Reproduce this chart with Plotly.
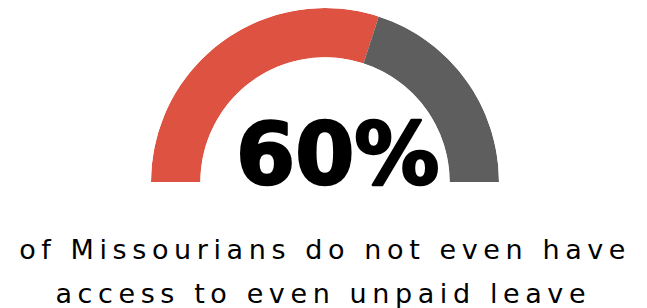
import numpy as np
import plotly.graph_objects as go

categories = ["Without access to unpaid leave", "With access"]
values = [60, 40]
colors = ["#DD5241", "#5E5E5E"]
headline = "60%"
caption_lines = ["of Missourians do not even have", "access to even unpaid leave"]

vals = np.array(values, dtype=float)
spans = vals / vals.sum() * 180.0
starts = np.concatenate([[0.0], np.cumsum(spans)[:-1]])
centers = starts + spans / 2

W, H = 647, 308
cx, cy, R = 317.0, 174.0, 174.0
fig = go.Figure()
fig.add_trace(go.Barpolar(
    r=[1] * len(values), theta=centers, width=spans,
    marker=dict(color=colors, line=dict(width=0)),
    text=categories, hoverinfo="text", showlegend=False,
))
fig.update_layout(
    width=W, height=H,
    margin=dict(l=0, r=0, t=0, b=0),
    paper_bgcolor="white", plot_bgcolor="white",
    polar=dict(
        domain=dict(x=[(cx - R) / W, (cx + R) / W], y=[(H - cy) / H, min(1.0, (H - cy + R) / H)]),
        sector=[0, 180], hole=125 / 174.5,
        bgcolor="rgba(0,0,0,0)",
        radialaxis=dict(visible=False, range=[0, 1]),
        angularaxis=dict(visible=False, rotation=180, direction="clockwise"),
    ),
    annotations=[
        dict(text="<b>" + headline + "</b>", x=330 / W, y=(H - 198) / H, xref="paper", yref="paper",
             xanchor="center", yanchor="bottom", showarrow=False,
             font=dict(family="DejaVu Sans", size=85, color="black")),
        dict(text=caption_lines[0], x=317 / W, y=(H - 241) / H, xref="paper", yref="paper",
             xanchor="center", yanchor="middle", showarrow=False,
             font=dict(family="DejaVu Sans", size=27, color="black")),
        dict(text=caption_lines[1], x=315 / W, y=(H - 285) / H, xref="paper", yref="paper",
             xanchor="center", yanchor="middle", showarrow=False,
             font=dict(family="DejaVu Sans", size=27, color="black")),
    ],
)
post = """
var gd = document.getElementById('{plot_id}');
function styleText(){
  var ts = gd.querySelectorAll('.annotation-text');
  ts.forEach(function(t, i){
    if (i === 0) { t.style.stroke = 'black'; t.style.strokeWidth = '2.5px'; t.style.strokeLinejoin = 'round'; }
    else { t.style.letterSpacing = '5.6px'; }
  });
}
styleText();
gd.on('plotly_afterplot', styleText);
"""
fig.write_html("out.html", post_script=post)
